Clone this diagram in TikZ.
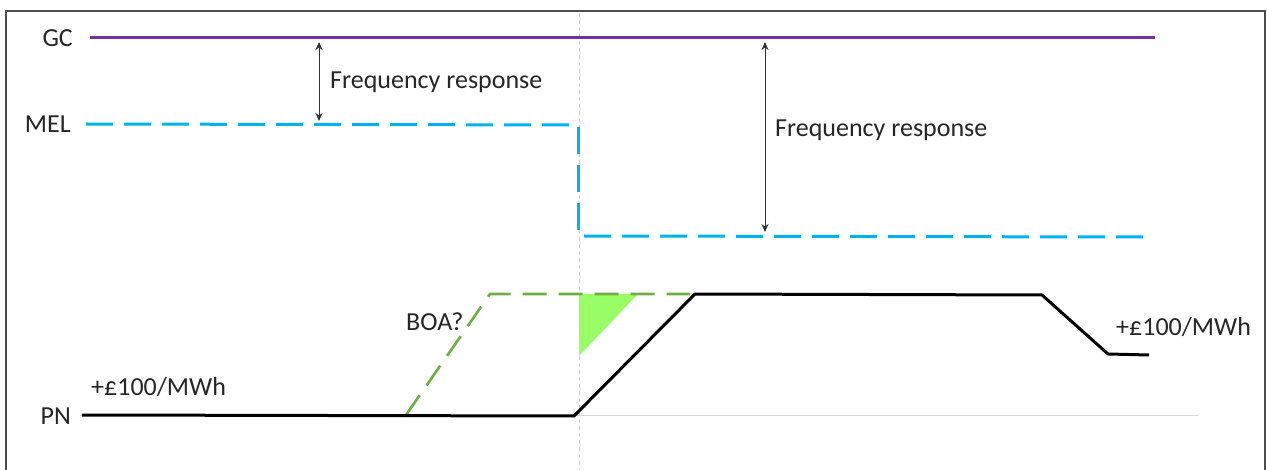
\documentclass[tikz,border=0pt]{standalone}
\usepackage{fontspec}
\setmainfont{Carlito}
\usetikzlibrary{arrows.meta}
\definecolor{gcpurple}{HTML}{7030A0}
\definecolor{melblue}{HTML}{00B0F0}
\definecolor{boagreen}{HTML}{70AD47}
\definecolor{trifill}{HTML}{99FF66}
\tikzset{
  lbl/.style={font=\fontsize{26}{30}\selectfont, text=black!85, inner sep=0pt},
  gcline/.style={gcpurple, line width=3pt},
  melline/.style={melblue, line width=3pt, dash pattern=on 27pt off 11pt},
  pnline/.style={black, line width=3pt, line join=round},
  boaline/.style={boagreen, line width=2.6pt, dash pattern=on 24pt off 12pt},
  guide/.style={black!15, line width=1pt},
  vguide/.style={black!20, line width=0.8pt, dash pattern=on 4pt off 3pt},
  frarrow/.style={black!80, line width=0.9pt, {Stealth[length=8pt,width=7pt]}-{Stealth[length=8pt,width=7pt]}},
  framebox/.style={black!70, line width=2.5pt}
}
\begin{document}
\begin{tikzpicture}[x=1pt,y=-1pt]
\useasboundingbox (0,0) rectangle (1267,470);
\fill[white] (0,0) rectangle (1267,470);
% frame
\coordinate (fbl) at (6,472);
\coordinate (ftl) at (6,11);
\coordinate (ftr) at (1265,11);
\coordinate (fbr) at (1265,472);
\draw[framebox] (fbl) -- (ftl) -- (ftr) -- (fbr);
% guides
\coordinate (vtop) at (579,13);
\coordinate (vbot) at (579,470);
\draw[vguide] (vtop) -- (vbot);
\coordinate (gl) at (80,415);
\coordinate (gr) at (1198,415);
\draw[guide] (gl) -- (gr);
% green triangle
\coordinate (t1) at (579,294);
\coordinate (t2) at (638,294);
\coordinate (t3) at (579,356);
\fill[trifill] (t1) -- (t2) -- (t3) -- cycle;
% GC
\node[lbl, anchor=east] (gc) at (73,38) {GC};
\coordinate (gc1) at (90,38);
\coordinate (gc2) at (1155,38);
\draw[gcline] (gc1) -- (gc2);
% MEL
\node[lbl, anchor=east] (mel) at (71,124) {MEL};
\coordinate (m1) at (86,124);
\coordinate (m2) at (576,125);
\coordinate (m3) at (578,236);
\coordinate (m4) at (1144,237);
\draw[melline] (m1) -- (m2);
\draw[melline] (m2) ++(2,2) -- (m3);
\draw[melline] (m3) ++(6,0) -- (m4);
% BOA dashed
\coordinate (b1) at (406,415);
\coordinate (b2) at (490,294);
\coordinate (b3) at (690,294);
\draw[boaline] (b1) -- (b2) -- (b3);
% PN
\node[lbl, anchor=east] (pn) at (71,416) {PN};
\coordinate (p1) at (82,415);
\coordinate (p2) at (574,416);
\coordinate (p3) at (695,294);
\coordinate (p4) at (1042,295);
\coordinate (p5) at (1108,354);
\coordinate (p6) at (1149,355);
\draw[pnline] (p1) -- (p2) -- (p3) -- (p4) -- (p5) -- (p6);
% labels
\node[lbl, anchor=west] (pr1) at (91,387) {+£100/MWh};
\node[lbl, anchor=west] (pr2) at (1116,327) {+£100/MWh};
\node[lbl, anchor=west] (boa) at (406,322) {BOA?};
% frequency response arrows
\coordinate (a1t) at (319,42);
\coordinate (a1b) at (319,121);
\draw[frarrow] (a1t) -- (a1b);
\node[lbl, anchor=west] (fr1) at (330,82) {Frequency response};
\coordinate (a2t) at (765,42);
\coordinate (a2b) at (765,232);
\draw[frarrow] (a2t) -- (a2b);
\node[lbl, anchor=west] (fr2) at (775,130) {Frequency response};
\end{tikzpicture}
\end{document}
